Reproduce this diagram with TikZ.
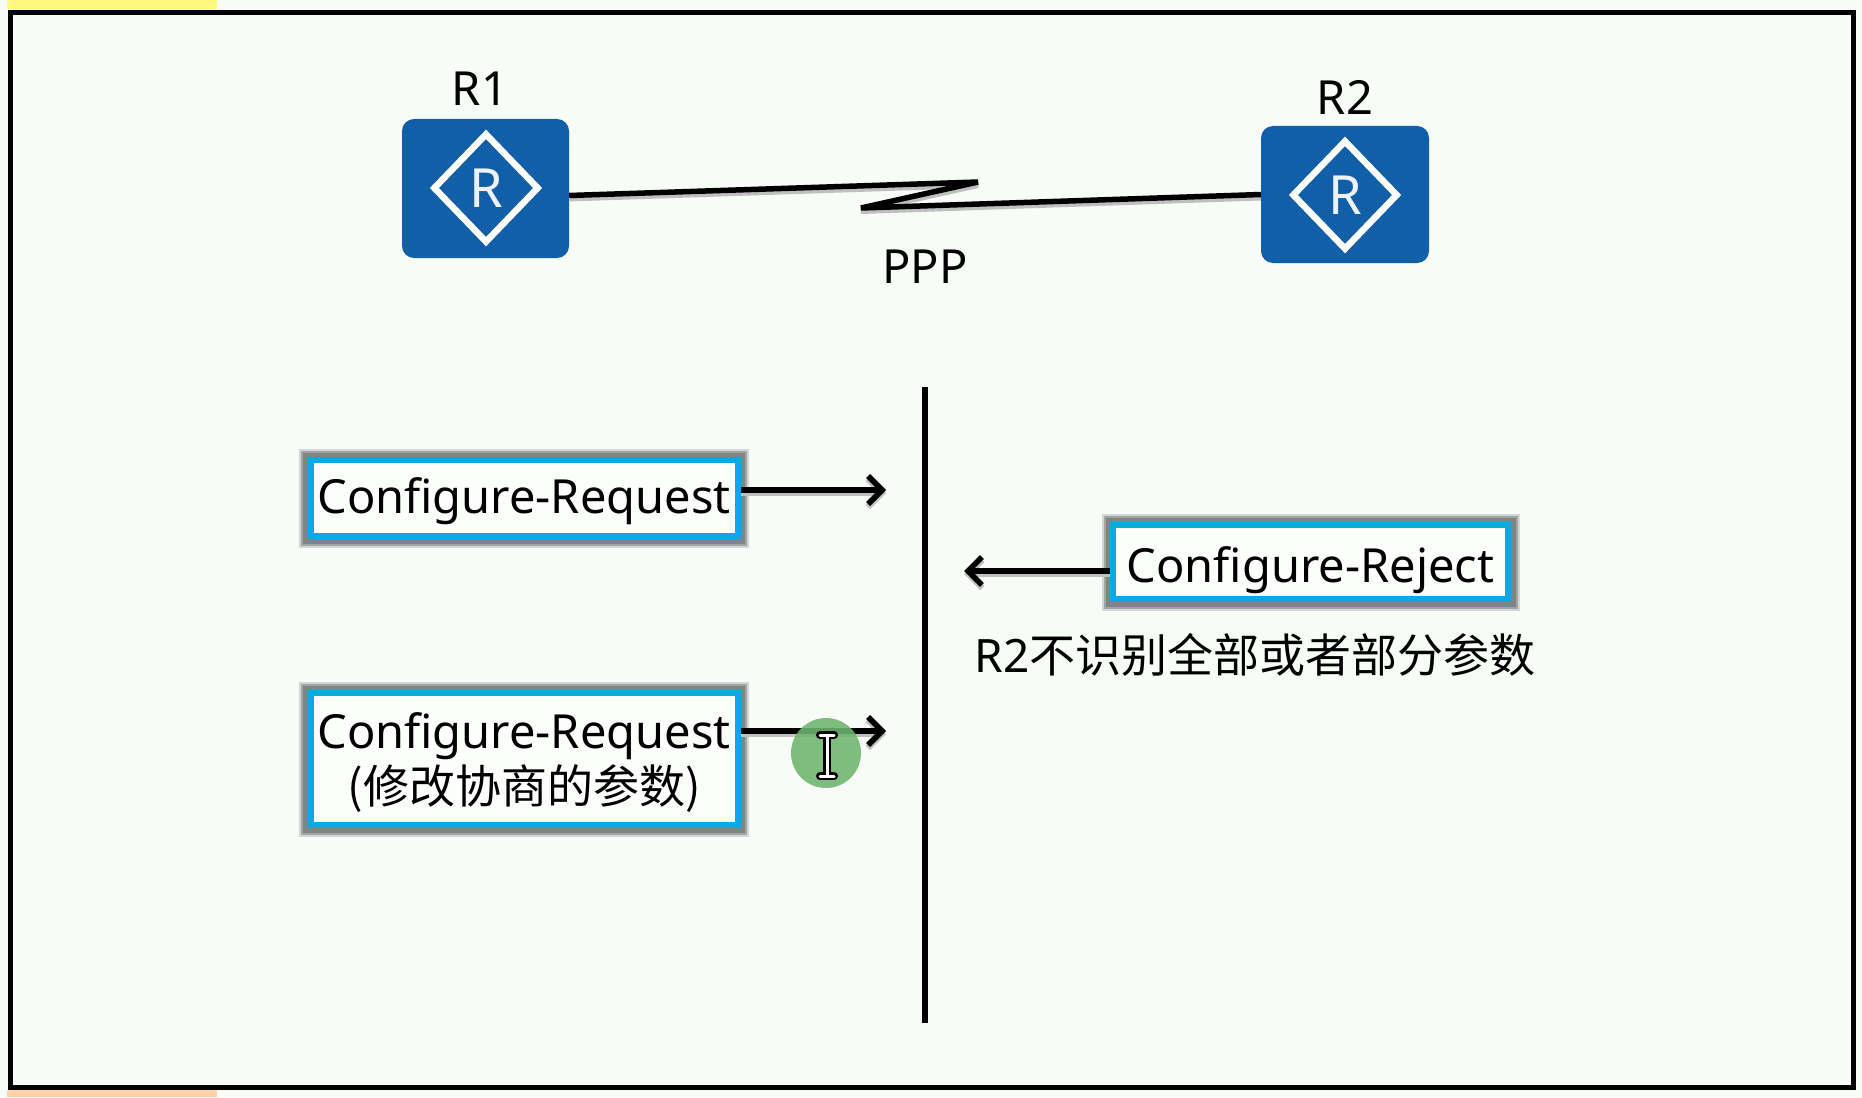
\documentclass[tikz,border=0pt]{standalone}
\usepackage{fontspec}
\setmainfont{Noto Sans}
\newfontfamily\cjk{Noto Sans CJK SC}
\usetikzlibrary{arrows.meta,shapes.geometric,calc}
\definecolor{bgc}{HTML}{F7FCF7}
\definecolor{routerblue}{HTML}{115FA9}
\definecolor{boxblue}{HTML}{0BA8E6}
\definecolor{halodark}{HTML}{7F8484}
\definecolor{halo}{HTML}{A0A4A4}
\definecolor{halolight}{HTML}{D2D6D4}
\definecolor{dotgreen}{HTML}{6FB56F}
\tikzset{
  x=1pt,y=-1pt,
  lbl/.style={font=\fontsize{47}{55}\selectfont,text=black,inner sep=0pt,align=center},
  router/.style={rectangle,rounded corners=12pt,fill=routerblue,inner sep=0pt},
  rhomb/.style={diamond,draw=white,line width=6.5pt,inner sep=0pt,minimum width=106pt,minimum height=110pt,
     text=white!92!routerblue,font=\fontsize{54}{60}\selectfont},
  msgbox/.style={rectangle,draw=boxblue,line width=6pt,fill=white!60!bgc,inner sep=0pt,align=center,
     font=\fontsize{47}{55}\selectfont,text=black,
     preaction={draw=halolight,line width=23pt},
     preaction={draw=halo,line width=19pt},
     preaction={draw=halodark,line width=15pt}},
  wire/.style={draw=black,line width=5.5pt},
  wireshadow/.style={preaction={draw=black!25,line width=6pt,transform canvas={yshift=-3pt}}},
  flow/.style={wire,wireshadow,-{Straight Barb[length=14pt,width=28pt]}},
}
\begin{document}
\begin{tikzpicture}
\useasboundingbox (0,0) rectangle (1862,1097);
\fill[bgc] (0,0) rectangle (1862,1097);
\fill[yellow!50!white] (7,0) rectangle (217,9);
\fill[orange!35!white] (7,1090) rectangle (217,1097);
\draw[black,line width=5pt,fill=bgc] (10,13) rectangle (1853,1087);

% Routers
\node[router,minimum width=167pt,minimum height=139pt] (r1) at (485.5,188.5) {};
\node[router,minimum width=168pt,minimum height=137pt] (r2) at (1345,194.5) {};
\node[rhomb] (d1) at (486,188) {R};
\node[rhomb] (d2) at (1345,195) {R};
\node[lbl] (l1) at (480,89) {R1};
\node[lbl] (l2) at (1345,97) {R2};
\node[lbl] (ppp) at (925,267) {PPP};

% PPP link
\coordinate (b1) at (978,182);
\coordinate (b2) at (861,208);
\draw[wire,wireshadow,line join=miter] ([yshift=-7pt]r1.east) -- (b1) -- (b2) -- (r2.west);

% Time line
\coordinate (t1) at (925,387);
\coordinate (t2) at (925,1023);
\draw[wire] (t1) -- (t2);

% Message boxes
\node[msgbox,minimum width=427pt,minimum height=76pt,text height=41pt,text depth=11pt] (m1) at (524,498) {Configure-Request};
\node[msgbox,minimum width=427pt,minimum height=132pt] (m2) at (524,759) {\rule{0pt}{42pt}Configure-Request\\{\cjk\fontsize{46}{55}\selectfont(修改协商的参数)}};
\node[msgbox,minimum width=395pt,minimum height=74pt,text height=52pt,text depth=11pt] (m3) at (1310.5,562) {Configure-Reject};
\node[lbl,font=\fontsize{46}{55}\selectfont] (cap) at (1255,655) {R2{\cjk 不识别全部或者部分参数}};

% Arrows
\coordinate (a1) at (886,490);
\coordinate (a2) at (886,731);
\coordinate (a3) at (964,571);
\draw[flow] (m1.east |- a1) -- (a1);
\draw[flow] (m2.east |- a2) -- (a2);
\draw[flow] (m3.west |- a3) -- (a3);

% Mouse pointer highlight
\fill[dotgreen,opacity=.88] (826,753) circle[radius=35];
\foreach \c/\w in {black/8pt,white/3pt}{
  \draw[\c,line width=\w,line cap=round] (827,735) -- (827,776);
  \draw[\c,line width=\w,line cap=round] (820,735) -- (834,735);
  \draw[\c,line width=\w,line cap=round] (820,776) -- (834,776);
}
\end{tikzpicture}
\end{document}
